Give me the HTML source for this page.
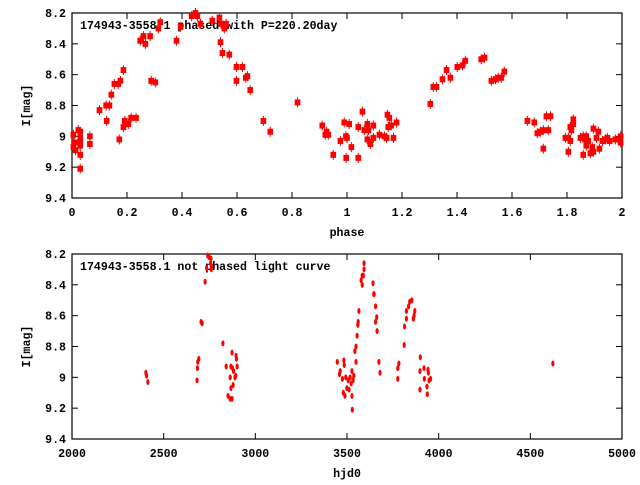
<!DOCTYPE html>
<html><head><meta charset="utf-8"><style>
html,body{margin:0;padding:0;background:#fff;}
svg text{font-family:"Liberation Mono",monospace;font-weight:bold;font-size:11.6px;fill:#000;}
</style></head><body>
<svg id="c" width="640" height="480" xmlns="http://www.w3.org/2000/svg"></svg>
<script>
const phaseX=[0.005,0.005,0.01,0.013,0.023,0.03,0.03,0.03,0.03,0.03,0.03,0.065,0.065,0.1,0.124,0.136,0.126,0.143,0.154,0.168,0.176,0.187,0.172,0.187,0.192,0.205,0.215,0.233,0.248,0.26,0.267,0.284,0.288,0.303,0.314,0.321,0.38,0.395,0.435,0.449,0.456,0.467,0.51,0.536,0.542,0.554,0.56,0.54,0.547,0.572,0.598,0.62,0.598,0.632,0.638,0.648,0.696,0.721,0.82,0.91,0.921,0.926,0.932,0.95,0.976,0.99,1.008,0.996,1.0,1.016,0.997,1.041,1.041,1.056,1.063,1.074,1.078,1.074,1.085,1.096,1.096,1.118,1.136,1.144,1.147,1.154,1.15,1.161,1.169,1.18,1.303,1.314,1.325,1.347,1.362,1.376,1.401,1.42,1.43,1.488,1.5,1.525,1.54,1.55,1.561,1.572,1.656,1.681,1.692,1.703,1.714,1.732,1.714,1.725,1.74,1.794,1.805,1.812,1.805,1.812,1.816,1.823,1.823,1.849,1.859,1.866,1.87,1.877,1.87,1.859,1.885,1.896,1.892,1.896,1.907,1.914,1.918,1.929,1.94,1.947,1.955,1.976,1.987,1.995,1.995];
const phaseMag=[8.99,9.07,9.04,9.09,8.96,8.97,9.01,9.04,9.06,9.12,9.21,9.0,9.05,8.83,8.8,8.8,8.9,8.73,8.66,8.66,8.64,8.57,9.02,8.94,8.9,8.92,8.88,8.88,8.38,8.35,8.4,8.35,8.64,8.65,8.3,8.26,8.38,8.29,8.22,8.2,8.22,8.27,8.25,8.23,8.27,8.3,8.27,8.39,8.46,8.47,8.55,8.55,8.64,8.62,8.61,8.7,8.9,8.97,8.78,8.93,8.99,8.97,8.99,9.12,9.03,8.91,8.92,9.0,9.01,9.07,9.14,8.94,9.14,8.84,8.96,8.92,8.96,9.02,9.05,9.01,8.93,8.99,9.0,9.01,8.86,8.88,8.94,8.93,9.01,8.91,8.79,8.68,8.68,8.63,8.57,8.62,8.55,8.54,8.51,8.5,8.49,8.64,8.63,8.62,8.62,8.58,8.9,8.91,8.98,8.97,8.96,8.96,9.08,8.87,8.87,9.01,9.01,9.03,9.1,8.94,8.96,8.89,8.92,9.01,9.0,9.02,9.0,9.03,9.06,9.12,9.11,9.1,9.07,8.95,9.01,8.97,9.08,9.03,9.02,9.01,9.03,9.02,9.02,9.0,9.04];
const hjd=[2403,2407,2414,2682,2684,2686,2692,2704,2710,2726,2734,2740,2748,2756,2762,2760,2758,2823,2841,2851,2863,2873,2863,2867,2867,2873,2875,2881,2879,2889,2895,2897,2901,2893,3447,3459,3463,3475,3480,3483,3485,3489,3493,3499,3507,3511,3517,3523,3527,3527,3529,3533,3537,3543,3549,3549,3555,3559,3561,3565,3577,3583,3583,3589,3593,3593,3642,3646,3648,3656,3656,3662,3664,3674,3680,3777,3777,3783,3812,3814,3824,3824,3836,3842,3854,3862,3866,3870,3900,3898,3898,3920,3922,3936,3938,3942,3944,3948,3956,4623];
const hjdMag=[8.97,8.99,9.03,9.02,8.94,8.9,8.88,8.64,8.65,8.38,8.29,8.21,8.22,8.26,8.28,8.3,8.23,8.78,8.93,9.12,9.14,9.14,9.0,9.07,8.93,8.84,8.94,8.96,9.05,9.0,8.86,8.88,8.93,8.99,8.9,8.98,8.96,9.01,9.1,8.89,8.92,9.12,9.0,9.07,9.02,9.08,9.0,9.04,8.96,9.12,9.21,9.02,8.99,8.83,8.8,8.9,8.73,8.66,8.64,8.57,8.37,8.34,8.4,8.34,8.3,8.26,8.39,8.46,8.46,8.54,8.64,8.61,8.7,8.9,8.97,8.94,9.01,8.91,8.79,8.67,8.62,8.57,8.54,8.51,8.5,8.62,8.6,8.57,8.87,8.96,9.08,8.94,9.01,9.06,9.11,8.95,8.97,9.02,9.01,8.91];
const yTicks=["8.2","8.4","8.6","8.8","9","9.2","9.4"];
const yTickVals=[8.2,8.4,8.6,8.8,9.0,9.2,9.4];
const phaseTicks=["0","0.2","0.4","0.6","0.8","1","1.2","1.4","1.6","1.8","2"];
const phaseTickVals=[0,0.2,0.4,0.6,0.8,1,1.2,1.4,1.6,1.8,2];
const hjdTicks=["2000","2500","3000","3500","4000","4500","5000"];
const hjdTickVals=[2000,2500,3000,3500,4000,4500,5000];

const NS="http://www.w3.org/2000/svg";
const svg=document.getElementById('c');
function mk(t,a,p){const e=document.createElementNS(NS,t);for(const k in a)e.setAttribute(k,a[k]);(p||svg).appendChild(e);return e;}
const L=72,R=622;
function panel(name,top,bot,xmin,xmax,xt,xtv,xlabel,title,xs,ys,big){
  const g=mk('g',{});
  
  
  const sx=v=>L+(v-xmin)/(xmax-xmin)*(R-L);
  const sy=v=>top+(v-8.2)/1.2*(bot-top);
  yTickVals.forEach((v,i)=>{
    const y=sy(v);
    mk('line',{x1:L,y1:y,x2:L+6,y2:y,stroke:'#000'},g);
    mk('line',{x1:R,y1:y,x2:R-6,y2:y,stroke:'#000'},g);
    const t=mk('text',{x:66,y:y+4,'text-anchor':'end'},g);t.textContent=yTicks[i];
    
    
  });
  xtv.forEach((v,i)=>{
    const x=sx(v);
    mk('line',{x1:x,y1:bot,x2:x,y2:bot-6,stroke:'#000'},g);
    mk('line',{x1:x,y1:top,x2:x,y2:top+6,stroke:'#000'},g);
    const t=mk('text',{x:x,y:bot+18,'text-anchor':'middle'},g);t.textContent=xt[i];
    
    
  });
  const fr=mk('rect',{x:L,y:top,width:R-L,height:bot-top,fill:'none',stroke:'#000','stroke-width':1.2},g);
  
  
  const yl=mk('text',{x:0,y:0,'text-anchor':'middle',transform:`translate(30,${(top+bot)/2}) rotate(-90)`},g);yl.textContent='I[mag]';
  
  
  const xl=mk('text',{x:(L+R)/2,y:bot+38,'text-anchor':'middle'},g);xl.textContent=xlabel;
  
  
  const tt=mk('text',{x:80,y:top+16},g);tt.textContent=title;
  
  
  xs.forEach((v,i)=>{
    const x=sx(v),y=sy(ys[i]);
    if(big){
      mk('line',{x1:x,y1:y-5,x2:x,y2:y+5,stroke:'#f00','stroke-width':1},g);
      const r=mk('rect',{x:x-2.8,y:y-3,width:5.6,height:6,fill:'#f00'},g);
      
      
    }else{
      const r=mk('ellipse',{cx:x,cy:y,rx:1.6,ry:3,fill:'#f00'},g);
      
      
    }
  });
}
panel('phased-plot',13,198,0,2,phaseTicks,phaseTickVals,'phase','174943-3558.1 phased with P=220.20day',phaseX,phaseMag,true);
panel('unphased-plot',254,439,2000,5000,hjdTicks,hjdTickVals,'hjd0','174943-3558.1 not phased light curve',hjd,hjdMag,false);
</script>
</body></html>
